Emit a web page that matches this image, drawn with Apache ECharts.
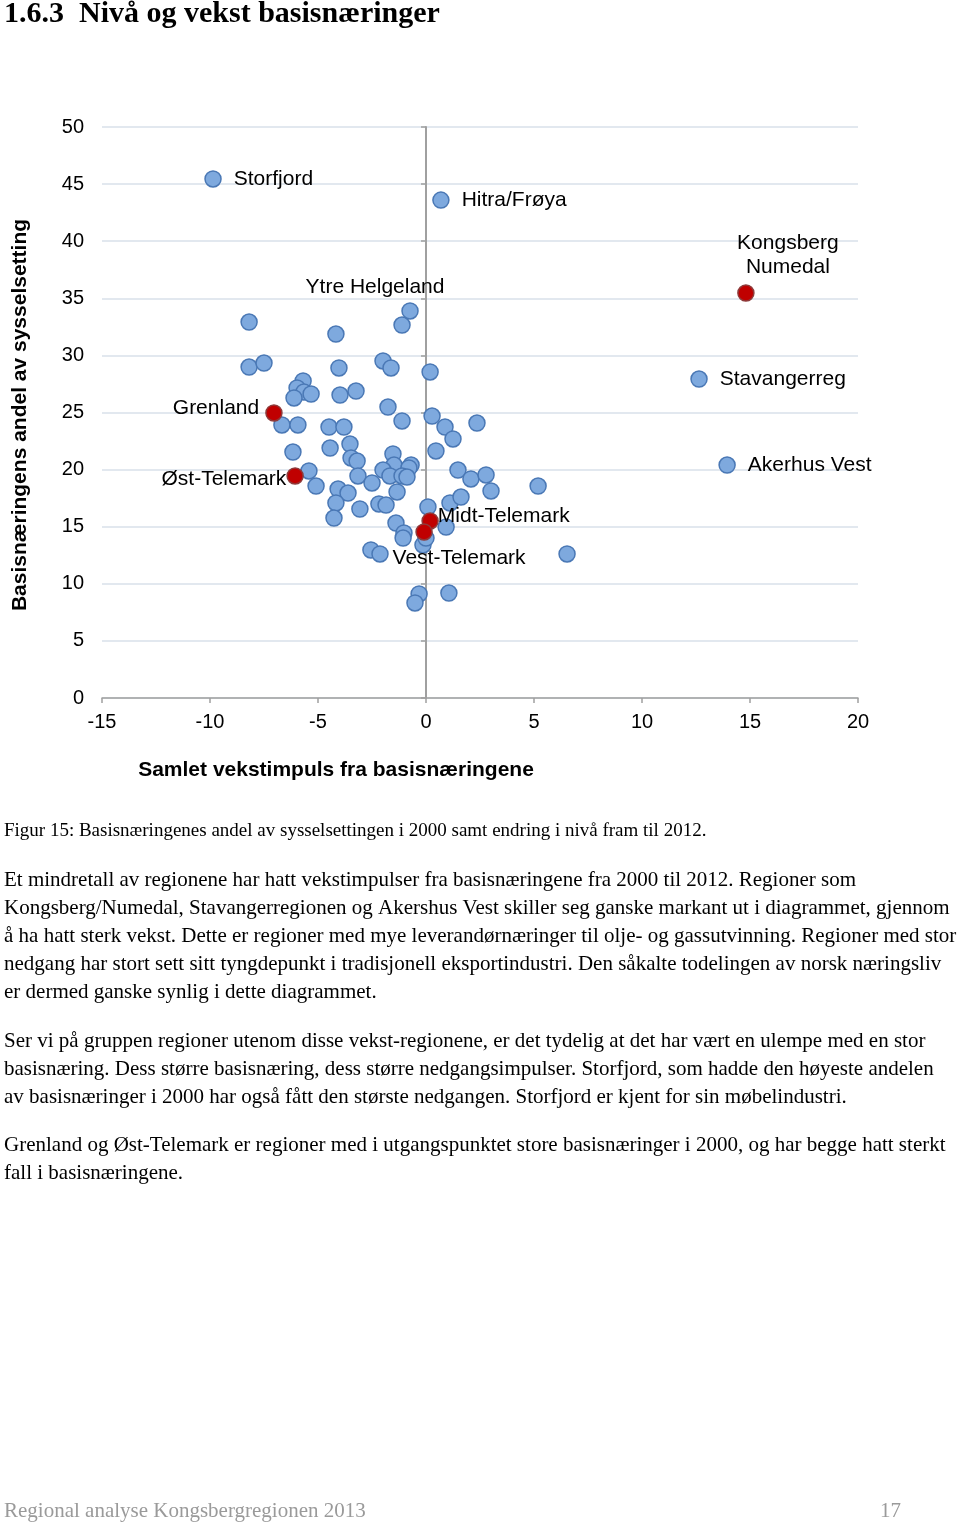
<!DOCTYPE html>
<html><head><meta charset="utf-8">
<script src="https://cdn.jsdelivr.net/npm/echarts@6/dist/echarts.min.js"></script>
<style>html,body{margin:0;padding:0;background:#fff}#c{width:960px;height:1523px}</style>
</head><body><div id="c"></div><script>
// Labelled regions (blue)
const labelNames = ['Storfjord', 'Hitra/Frøya', 'Ytre Helgeland', 'Stavangerreg', 'Akerhus Vest'];
const labelX = [-9.86, 0.69, -0.74, 12.64, 13.94];
const labelY = [45.45, 43.6, 33.89, 27.93, 20.4];

// Highlighted Telemark/Kongsberg regions (red)
const hlNames = ['Kongsberg\nNumedal', 'Grenland', 'Øst-Telemark', 'Midt-Telemark', 'Vest-Telemark'];
const hlX = [14.81, -7.04, -6.06, 0.19, -0.09];
const hlY = [35.46, 24.96, 19.44, 15.5, 14.54];

// Other regions (blue, unlabelled)
const otherX = [-8.19, -4.17, -1.11, -8.19, -7.5, -4.03, -1.99, -1.62, 0.19, -5.69, -5.97, -5.65, -5.32, -6.11, -3.98, -3.24,
  -1.76, -1.11, 0.28, 0.88, 2.36, -6.67, -5.93, -4.49, -3.8, 1.25, -3.52, -4.44, 0.46, -6.16, -1.53, -3.47, -3.19,
  -1.48, -0.69, -0.79, -1.99, -1.67, -1.11, -0.88, -3.15, -2.5, -5.42, -5.09, 1.48, 2.08, 2.78, 3.01, 5.19, -4.07,
  -3.61, -1.34, -4.17, -4.26, -3.06, -2.18, -1.85, 0.09, 1.11, 1.62, -1.39, 0.93, -1.02, -1.06, -0.14, -2.55, -2.13,
  -0.32, -0.51, 1.06, 6.53, 0.0];
const otherY = [32.92, 31.87, 32.66, 28.98, 29.33, 28.9, 29.51, 28.9, 28.55, 27.76, 27.15, 26.8, 26.62, 26.27, 26.53, 26.88,
  25.48, 24.26, 24.69, 23.73, 24.08, 23.91, 23.91, 23.73, 23.73, 22.68, 22.24, 21.89, 21.63, 21.54, 21.37, 21.02, 20.75,
  20.4, 20.4, 20.14, 19.96, 19.44, 19.44, 19.35, 19.44, 18.83, 19.88, 18.56, 19.96, 19.18, 19.53, 18.13, 18.56, 18.3,
  17.95, 18.04, 17.08, 15.76, 16.55, 16.99, 16.9, 16.73, 17.08, 17.6, 15.32, 14.97, 14.45, 14.01, 13.4, 12.96, 12.61,
  9.11, 8.32, 9.19, 12.61, 14.0];

const xTicks = { min: -15, max: 20, interval: 5 };
const yTicks = { min: 0, max: 50, interval: 5 };

const title = '1.6.3  Nivå og vekst basisnæringer';
const xTitle = 'Samlet vekstimpuls fra basisnæringene';
const yTitle = 'Basisnæringens andel av sysselsetting';
const caption = 'Figur 15: Basisnæringenes andel av sysselsettingen i 2000 samt endring i nivå fram til 2012.';
const bodyLines = [
  'Et mindretall av regionene har hatt vekstimpulser fra basisnæringene fra 2000 til 2012. Regioner som',
  'Kongsberg/Numedal, Stavangerregionen og Akershus Vest skiller seg ganske markant ut i diagrammet, gjennom',
  'å ha hatt sterk vekst. Dette er regioner med mye leverandørnæringer til olje- og gassutvinning. Regioner med stor',
  'nedgang har stort sett sitt tyngdepunkt i tradisjonell eksportindustri. Den såkalte todelingen av norsk næringsliv',
  'er dermed ganske synlig i dette diagrammet.',
  'Ser vi på gruppen regioner utenom disse vekst-regionene, er det tydelig at det har vært en ulempe med en stor',
  'basisnæring. Dess større basisnæring, dess større nedgangsimpulser. Storfjord, som hadde den høyeste andelen',
  'av basisnæringer i 2000 har også fått den største nedgangen. Storfjord er kjent for sin møbelindustri.',
  'Grenland og Øst-Telemark er regioner med i utgangspunktet store basisnæringer i 2000, og har begge hatt sterkt',
  'fall i basisnæringene.'
];
const bodyY = [880, 908, 936, 964, 992, 1041, 1069, 1097, 1145, 1173];
const footerLeft = 'Regional analyse Kongsbergregionen 2013';
const footerRight = '17';

// label placement (style only)
const labelStyle = {
  'Storfjord': { position: 'right', distance: 12 },
  'Hitra/Frøya': { position: 'right', distance: 12 },
  'Ytre Helgeland': { position: 'top', distance: 5, offset: [-35, 0] },
  'Stavangerreg': { position: 'right', distance: 12 },
  'Akerhus Vest': { position: 'right', distance: 12 },
  'Kongsberg\nNumedal': { position: 'top', distance: 5, offset: [42, 0], align: 'center', lineHeight: 24 },
  'Grenland': { position: 'left', distance: 6, offset: [0, -5] },
  'Øst-Telemark': { position: 'left', distance: 0, offset: [0, 3] },
  'Midt-Telemark': { position: 'right', distance: -1, offset: [0, -5] },
  'Vest-Telemark': { position: 'bottom', distance: 7, offset: [35, 0] }
};

const SANS = 'Liberation Sans, Arial, sans-serif';
const SERIF = 'Liberation Serif, Times New Roman, serif';
const blue = { color: '#7ea9de', borderColor: '#4a78b5', borderWidth: 1.5, opacity: 1 };
const red = { color: '#c00000', borderColor: '#8e3a3a', borderWidth: 1.5, opacity: 1 };

function mkItems(names, xs, ys) {
  return names.map((n, i) => ({
    name: n, value: [xs[i], ys[i]],
    label: Object.assign({ show: true, formatter: '{b}', color: '#000', fontSize: 21, fontFamily: SANS }, labelStyle[n])
  }));
}

const chart = echarts.init(document.getElementById('c'), null, { renderer: 'canvas' });

const graphics = [
  { type: 'text', x: 4, y: 14, style: { text: title, font: 'bold 30px ' + SERIF, fill: '#000', textVerticalAlign: 'middle' } },
  { type: 'text', x: 336, y: 770, style: { text: xTitle, font: 'bold 21px ' + SANS, fill: '#000', textAlign: 'center', textVerticalAlign: 'middle' } },
  { type: 'text', x: 20, y: 415, rotation: Math.PI / 2, style: { text: yTitle, font: 'bold 21px ' + SANS, fill: '#000', textAlign: 'center', textVerticalAlign: 'middle' } },
  { type: 'text', x: 4, y: 831, style: { text: caption, font: '19px ' + SERIF, fill: '#000', textVerticalAlign: 'middle' } },
  { type: 'text', x: 4, y: 1511, style: { text: footerLeft, font: '21px ' + SERIF, fill: '#9a9a9a', textVerticalAlign: 'middle' } },
  { type: 'text', x: 880, y: 1511, style: { text: footerRight, font: '21px ' + SERIF, fill: '#9a9a9a', textVerticalAlign: 'middle' } }
];
bodyLines.forEach((t, i) => graphics.push({ type: 'text', x: 4, y: bodyY[i], style: { text: t, font: '21px ' + SERIF, fill: '#000', textVerticalAlign: 'middle' } }));

chart.setOption({
  animation: false,
  backgroundColor: '#fff',
  grid: { left: 102, right: 102, top: 127, bottom: 825 },
  xAxis: {
    type: 'value', min: xTicks.min, max: xTicks.max, interval: xTicks.interval,
    axisLine: { onZero: false, lineStyle: { color: '#a0a0a0', width: 1.5 } },
    axisTick: { show: true, length: 5, lineStyle: { color: '#a0a0a0', width: 1.5 } },
    axisLabel: { color: '#000', fontSize: 20, fontFamily: SANS, margin: 14 },
    splitLine: { show: false }
  },
  yAxis: [{
    type: 'value', min: yTicks.min, max: yTicks.max, interval: yTicks.interval,
    axisLine: { show: false, onZero: false },
    axisTick: { show: false },
    axisLabel: { color: '#000', fontSize: 20, fontFamily: SANS, margin: 18 },
    splitLine: { show: true, lineStyle: { color: '#d9e1ea', width: 1.5 } }
  }, {
    type: 'value', min: yTicks.min, max: yTicks.max, interval: yTicks.interval, position: 'left', offset: -324,
    axisLine: { show: true, onZero: false, lineStyle: { color: '#a0a0a0', width: 2 } },
    axisTick: { show: true, length: 5, lineStyle: { color: '#a0a0a0', width: 1.5 } },
    axisLabel: { show: false },
    splitLine: { show: false }
  }],
  graphic: graphics,
  series: [
    { type: 'scatter', symbol: 'circle', symbolSize: 16, itemStyle: blue, z: 3,
      data: otherX.map((x, i) => [x, otherY[i]]) },
    { type: 'scatter', symbol: 'circle', symbolSize: 16, itemStyle: blue, z: 3,
      data: mkItems(labelNames, labelX, labelY) },
    { type: 'scatter', symbol: 'circle', symbolSize: 16, itemStyle: red, z: 4,
      data: mkItems(hlNames, hlX, hlY) }
  ]
});
</script></body></html>
